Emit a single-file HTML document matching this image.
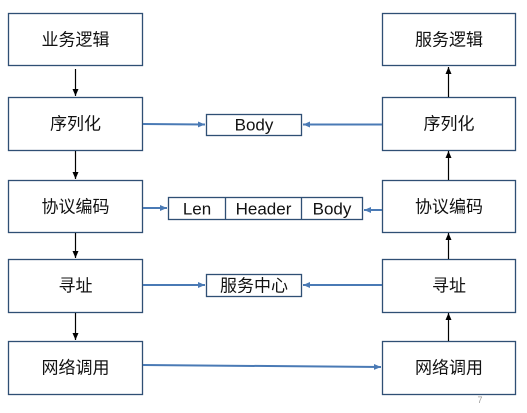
<!DOCTYPE html><html><head><meta charset="utf-8"><style>
body{margin:0;background:#fff;width:527px;height:408px;overflow:hidden}
svg text{font-family:"Liberation Sans","Noto Sans CJK SC",sans-serif;font-size:17px;fill:#111;text-anchor:middle;dominant-baseline:central}
</style></head><body>
<svg width="527" height="408" viewBox="0 0 527 408">
<defs>
<marker id="k" markerWidth="8" markerHeight="8" refX="7" refY="4" orient="auto" markerUnits="userSpaceOnUse"><path d="M0,1 L7,4 L0,7z" fill="#000"/></marker>
<marker id="b" markerWidth="8" markerHeight="8" refX="7" refY="4" orient="auto" markerUnits="userSpaceOnUse"><path d="M0,1 L7,4 L0,7z" fill="#4a7ab5"/></marker>
</defs>
<g fill="#fff" stroke="#2f4f74" stroke-width="1.3">
<rect x="8.5" y="13.5" width="134" height="52"/>
<rect x="8.5" y="97.5" width="134" height="53"/>
<rect x="8.5" y="180.5" width="134" height="52"/>
<rect x="8.5" y="259.5" width="134" height="53"/>
<rect x="8.5" y="341.5" width="134" height="53"/>
<rect x="382.5" y="13.5" width="133" height="52"/>
<rect x="382.5" y="97.5" width="133" height="53"/>
<rect x="382.5" y="180.5" width="133" height="52"/>
<rect x="382.5" y="259.5" width="133" height="53"/>
<rect x="382.5" y="341.5" width="133" height="53"/>
<rect x="206.5" y="114.5" width="95" height="21"/>
<rect x="168.5" y="197.5" width="194" height="22"/>
<rect x="206.5" y="274.5" width="95" height="22"/>
<line x1="225.5" y1="197.5" x2="225.5" y2="219.5"/>
<line x1="301.5" y1="197.5" x2="301.5" y2="219.5"/>
</g>
<g stroke="#000" stroke-width="1.2">
<line x1="75.5" y1="69" x2="75.5" y2="96" marker-end="url(#k)"/>
<line x1="75.5" y1="151" x2="75.5" y2="179" marker-end="url(#k)"/>
<line x1="75.5" y1="233" x2="75.5" y2="258" marker-end="url(#k)"/>
<line x1="75.5" y1="313" x2="75.5" y2="340" marker-end="url(#k)"/>
<line x1="448.5" y1="97" x2="448.5" y2="67" marker-end="url(#k)"/>
<line x1="448.5" y1="180" x2="448.5" y2="151" marker-end="url(#k)"/>
<line x1="448.5" y1="259" x2="448.5" y2="233" marker-end="url(#k)"/>
<line x1="448.5" y1="341" x2="448.5" y2="313" marker-end="url(#k)"/>
</g>
<g stroke="#4a7ab5" stroke-width="2">
<line x1="143" y1="124" x2="205" y2="124.5" marker-end="url(#b)"/>
<line x1="382" y1="124.5" x2="303" y2="124.5" marker-end="url(#b)"/>
<line x1="143" y1="208" x2="167" y2="208" marker-end="url(#b)"/>
<line x1="382" y1="210" x2="364" y2="210" marker-end="url(#b)"/>
<line x1="143" y1="285" x2="205" y2="285" marker-end="url(#b)"/>
<line x1="382" y1="285" x2="303" y2="285" marker-end="url(#b)"/>
<line x1="143" y1="365" x2="381" y2="367" marker-end="url(#b)"/>
</g>
<text x="75.5" y="40">业务逻辑</text>
<text x="75.5" y="124">序列化</text>
<text x="75.5" y="207">协议编码</text>
<text x="75.5" y="286">寻址</text>
<text x="75.5" y="368">网络调用</text>
<text x="449" y="40">服务逻辑</text>
<text x="449" y="124">序列化</text>
<text x="449" y="207">协议编码</text>
<text x="449" y="286">寻址</text>
<text x="449" y="368">网络调用</text>
<text x="254" y="125">Body</text>
<text x="197" y="209">Len</text>
<text x="263.5" y="209">Header</text>
<text x="332" y="209">Body</text>
<text x="254" y="286">服务中心</text>
<text x="480" y="400" style="font-size:9px;fill:#999">7</text>
</svg>
</body></html>
